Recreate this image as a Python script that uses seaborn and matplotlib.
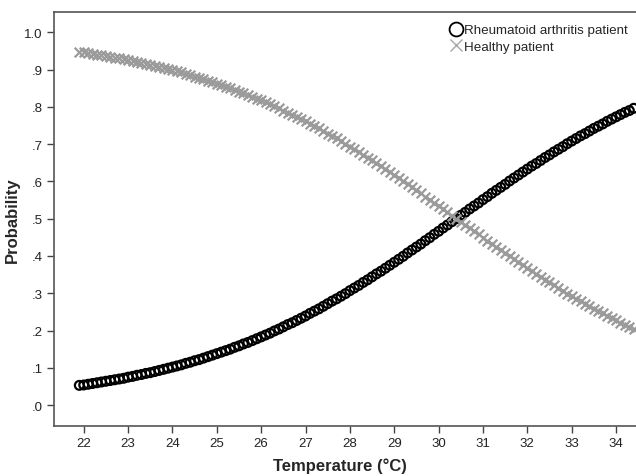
import numpy as np
import pandas as pd
import matplotlib
matplotlib.use("Agg")
import matplotlib.pyplot as plt
import seaborn as sns
from matplotlib.lines import Line2D

# temperature readings (deg C) along the fitted curves
temperature = [21.9, 22.0, 22.1, 22.2, 22.3, 22.4, 22.5, 22.6, 22.7, 22.8, 22.9,
               23.0, 23.1, 23.2, 23.3, 23.4, 23.5, 23.6, 23.7, 23.8, 23.9,
               24.0, 24.1, 24.2, 24.3, 24.4, 24.5, 24.6, 24.7, 24.8, 24.9,
               25.0, 25.1, 25.2, 25.3, 25.4, 25.5, 25.6, 25.7, 25.8, 25.9,
               26.0, 26.1, 26.2, 26.3, 26.4, 26.5, 26.6, 26.7, 26.8, 26.9,
               27.0, 27.1, 27.2, 27.3, 27.4, 27.5, 27.6, 27.7, 27.8, 27.9,
               28.0, 28.1, 28.2, 28.3, 28.4, 28.5, 28.6, 28.7, 28.8, 28.9,
               29.0, 29.1, 29.2, 29.3, 29.4, 29.5, 29.6, 29.7, 29.8, 29.9,
               30.0, 30.1, 30.2, 30.3, 30.4, 30.5, 30.6, 30.7, 30.8, 30.9,
               31.0, 31.1, 31.2, 31.3, 31.4, 31.5, 31.6, 31.7, 31.8, 31.9,
               32.0, 32.1, 32.2, 32.3, 32.4, 32.5, 32.6, 32.7, 32.8, 32.9,
               33.0, 33.1, 33.2, 33.3, 33.4, 33.5, 33.6, 33.7, 33.8, 33.9,
               34.0, 34.1, 34.2, 34.3, 34.4]

# probability - rheumatoid arthritis patient
prob_ra = [0.053, 0.054, 0.056, 0.058, 0.060, 0.062, 0.064, 0.066, 0.068, 0.070, 0.072,
           0.075, 0.077, 0.080, 0.082, 0.085, 0.087, 0.090, 0.093, 0.096, 0.099,
           0.102, 0.105, 0.108, 0.112, 0.115, 0.119, 0.122, 0.126, 0.130, 0.134,
           0.138, 0.142, 0.146, 0.150, 0.155, 0.159, 0.164, 0.168, 0.173, 0.178,
           0.183, 0.188, 0.193, 0.199, 0.204, 0.210, 0.216, 0.221, 0.227, 0.233,
           0.239, 0.246, 0.252, 0.258, 0.265, 0.272, 0.279, 0.285, 0.292, 0.299,
           0.307, 0.314, 0.321, 0.329, 0.336, 0.344, 0.352, 0.359, 0.367, 0.375,
           0.383, 0.391, 0.399, 0.408, 0.416, 0.424, 0.432, 0.441, 0.449, 0.458,
           0.466, 0.475, 0.483, 0.492, 0.500, 0.509, 0.517, 0.526, 0.534, 0.542,
           0.551, 0.559, 0.568, 0.576, 0.584, 0.592, 0.601, 0.609, 0.617, 0.625,
           0.633, 0.641, 0.648, 0.656, 0.664, 0.671, 0.679, 0.686, 0.693, 0.701,
           0.708, 0.715, 0.722, 0.728, 0.735, 0.742, 0.748, 0.754, 0.761, 0.767,
           0.773, 0.779, 0.785, 0.790, 0.796]

# probability - healthy patient
prob_healthy = [0.947, 0.946, 0.944, 0.942, 0.940, 0.938, 0.936, 0.934, 0.932, 0.930, 0.928,
                0.925, 0.923, 0.920, 0.918, 0.915, 0.913, 0.910, 0.907, 0.904, 0.901,
                0.898, 0.895, 0.892, 0.888, 0.885, 0.881, 0.878, 0.874, 0.870, 0.866,
                0.862, 0.858, 0.854, 0.850, 0.845, 0.841, 0.836, 0.832, 0.827, 0.822,
                0.817, 0.812, 0.807, 0.801, 0.796, 0.790, 0.784, 0.779, 0.773, 0.767,
                0.761, 0.754, 0.748, 0.742, 0.735, 0.728, 0.721, 0.715, 0.708, 0.701,
                0.693, 0.686, 0.679, 0.671, 0.664, 0.656, 0.648, 0.641, 0.633, 0.625,
                0.617, 0.609, 0.601, 0.592, 0.584, 0.576, 0.568, 0.559, 0.551, 0.542,
                0.534, 0.525, 0.517, 0.508, 0.500, 0.491, 0.483, 0.474, 0.466, 0.458,
                0.449, 0.441, 0.432, 0.424, 0.416, 0.408, 0.399, 0.391, 0.383, 0.375,
                0.367, 0.359, 0.352, 0.344, 0.336, 0.329, 0.321, 0.314, 0.307, 0.299,
                0.292, 0.285, 0.278, 0.272, 0.265, 0.258, 0.252, 0.246, 0.239, 0.233,
                0.227, 0.221, 0.215, 0.210, 0.204]

ytick_vals = [0.0, 0.1, 0.2, 0.3, 0.4, 0.5, 0.6, 0.7, 0.8, 0.9, 1.0]
ytick_labels = [".0", ".1", ".2", ".3", ".4", ".5", ".6", ".7", ".8", ".9", "1.0"]
xtick_vals = [22, 23, 24, 25, 26, 27, 28, 29, 30, 31, 32, 33, 34]

sns.set_style("white")
plt.rcParams["font.family"] = ["Liberation Sans", "DejaVu Sans"]

df_ra = pd.DataFrame({"Temperature": temperature, "Probability": prob_ra})
df_h = pd.DataFrame({"Temperature": temperature, "Probability": prob_healthy})

fig = plt.figure(figsize=(6.36, 4.77), dpi=100)
ax = fig.add_axes([54 / 636, 1 - 427 / 477, 1 - 54 / 636, (427 - 12.7) / 477])

sns.scatterplot(x="Temperature", y="Probability", data=df_ra, ax=ax, marker="o",
                s=40, facecolors="none", edgecolor="black", linewidth=1.6, legend=False)
sns.scatterplot(x="Temperature", y="Probability", data=df_h, ax=ax, marker="x",
                s=48, color="#9a9a9a", linewidth=1.6, legend=False)

ax.set_xlim(21.33, 34.45)
ax.set_ylim(-0.056, 1.055)
ax.set_xticks(xtick_vals)
ax.set_xticklabels([str(v) for v in xtick_vals], fontsize=9.5, color="#222222")
ax.set_yticks(ytick_vals)
ax.set_yticklabels(ytick_labels, fontsize=9.5, color="#222222")
ax.tick_params(axis="both", direction="out", length=5, width=1, color="#444444",
               bottom=True, left=True, pad=3)

for side in ["left", "bottom", "top"]:
    ax.spines[side].set_color("#555555")
    ax.spines[side].set_linewidth(1.2)
ax.spines["right"].set_visible(False)

ax.set_xlabel("Temperature (°C)", fontsize=12, fontweight="bold")
ax.set_ylabel("Probability", fontsize=12, fontweight="bold")
ax.xaxis.set_label_coords((340 - 54) / 582, -(458.5 - 427) / 414.3)
ax.yaxis.set_label_coords((20 - 54) / 582, 0.5)

handles = [Line2D([], [], linestyle="none", marker="o", markersize=10,
                  markerfacecolor="none", markeredgecolor="black", markeredgewidth=1.3),
           Line2D([], [], linestyle="none", marker="x", markersize=8.5,
                  color="#a8a8a8", markeredgewidth=1.0)]
fig.legend(handles, ["Rheumatoid arthritis patient", "Healthy patient"],
           loc="upper left", bbox_to_anchor=(450 / 636, 1 - 25 / 477), frameon=False,
           fontsize=9.6, handlelength=0.9, handletextpad=0.15, labelspacing=0.3,
           borderaxespad=0, borderpad=0)

fig.savefig("out.png", dpi=100)
